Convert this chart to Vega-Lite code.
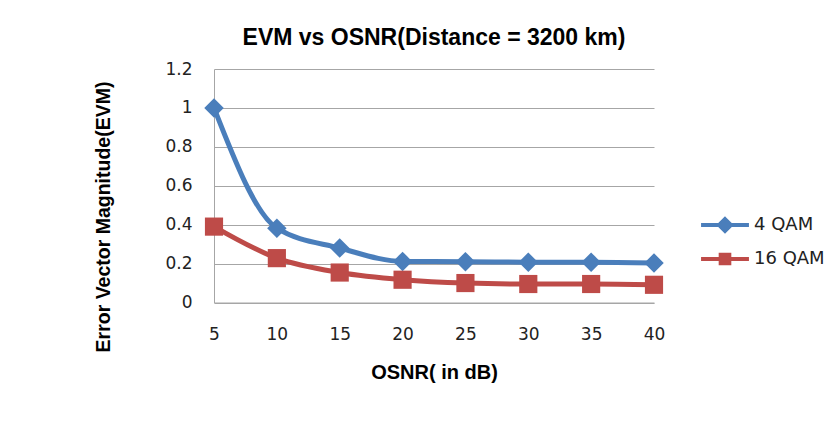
{
  "$schema": "https://vega.github.io/schema/vega-lite/v6.json",
  "width": 440,
  "height": 233.5,
  "autosize": {"type": "none"},
  "padding": {"left": 214, "top": 69, "right": 186, "bottom": 123.5},
  "background": "white",
  "title": {
    "text": "EVM vs OSNR(Distance = 3200 km)",
    "font": "Liberation Sans",
    "fontSize": 23,
    "fontWeight": "bold",
    "color": "#000000",
    "anchor": "middle",
    "baseline": "alphabetic",
    "offset": 22,
    "dy": 29.5
  },
  "data": {
    "values": [
      {"osnr": 5, "series": "4 QAM", "evm": 1.0},
      {"osnr": 10, "series": "4 QAM", "evm": 0.382},
      {"osnr": 15, "series": "4 QAM", "evm": 0.28},
      {"osnr": 20, "series": "4 QAM", "evm": 0.211},
      {"osnr": 25, "series": "4 QAM", "evm": 0.21},
      {"osnr": 30, "series": "4 QAM", "evm": 0.207},
      {"osnr": 35, "series": "4 QAM", "evm": 0.207},
      {"osnr": 40, "series": "4 QAM", "evm": 0.203},
      {"osnr": 5, "series": "16 QAM", "evm": 0.39},
      {"osnr": 10, "series": "16 QAM", "evm": 0.228},
      {"osnr": 15, "series": "16 QAM", "evm": 0.154},
      {"osnr": 20, "series": "16 QAM", "evm": 0.117},
      {"osnr": 25, "series": "16 QAM", "evm": 0.1},
      {"osnr": 30, "series": "16 QAM", "evm": 0.095},
      {"osnr": 35, "series": "16 QAM", "evm": 0.095},
      {"osnr": 40, "series": "16 QAM", "evm": 0.091}
    ]
  },
  "encoding": {
    "x": {
      "field": "osnr",
      "type": "quantitative",
      "scale": {"domain": [5, 40], "nice": false, "zero": false},
      "axis": {
        "title": "OSNR( in dB)",
        "values": [5, 10, 15, 20, 25, 30, 35, 40],
        "grid": false,
        "ticks": false,
        "tickSize": 0,
        "domainColor": "#A6A6A6",
        "domainWidth": 1,
        "labelFont": "DejaVu Sans",
        "labelFontSize": 17,
        "labelColor": "#222222",
        "labelPadding": 24,
        "labelFlush": false,
        "titleFont": "Liberation Sans",
        "titleFontSize": 20,
        "titleFontWeight": "bold",
        "titleColor": "#000000",
        "titlePadding": 20
      }
    },
    "y": {
      "field": "evm",
      "type": "quantitative",
      "scale": {"domain": [0, 1.2], "nice": false},
      "axis": {
        "title": "Error Vector Magnitude(EVM)",
        "values": [0, 0.2, 0.4, 0.6, 0.8, 1, 1.2],
        "format": "~g",
        "grid": true,
        "gridColor": "#A6A6A6",
        "gridWidth": 1,
        "ticks": false,
        "tickSize": 0,
        "domainColor": "#A6A6A6",
        "domainWidth": 1,
        "labelFont": "DejaVu Sans",
        "labelFontSize": 17,
        "labelColor": "#222222",
        "labelPadding": 22,
        "labelFlush": false,
        "titleFont": "Liberation Sans",
        "titleFontSize": 19.5,
        "titleFontWeight": "bold",
        "titleColor": "#000000",
        "titleAngle": 270,
        "titleAlign": "center",
        "titleBaseline": "middle",
        "titleX": -111,
        "titleY": 147.5
      }
    },
    "color": {
      "field": "series",
      "type": "nominal",
      "scale": {"domain": ["4 QAM", "16 QAM"], "range": ["#4A7EBB", "#BE4B48"]},
      "legend": {
        "title": null,
        "orient": "none",
        "legendX": 491,
        "legendY": 136,
        "padding": 0,
        "symbolSize": 1296,
        "symbolStrokeWidth": 4,
        "rowPadding": 0,
        "labelOffset": 9,
        "labelFont": "DejaVu Sans",
        "labelFontSize": 18,
        "labelColor": "#222222",
        "encode": {
          "symbols": {
            "update": {
              "shape": {"signal": "datum.value === '4 QAM' ? 'M-1.33,0L1.33,0M0,-0.33L0.33,0L0,0.33L-0.33,0Z' : 'M-1.33,0L1.33,0M-0.24,-0.24L0.24,-0.24L0.24,0.24L-0.24,0.24Z'"},
              "fill": {"signal": "scale('color', datum.value)"},
              "fillOpacity": {"value": 1}
            }
          }
        }
      }
    }
  },
  "layer": [
    {
      "mark": {"type": "line", "interpolate": "monotone", "strokeWidth": 5}
    },
    {
      "transform": [{"filter": "datum.series === '4 QAM'"}],
      "mark": {"type": "point", "shape": "diamond", "size": 380, "filled": true, "opacity": 1}
    },
    {
      "transform": [{"filter": "datum.series === '16 QAM'"}],
      "mark": {"type": "point", "shape": "square", "size": 330, "filled": true, "opacity": 1}
    }
  ],
  "config": {
    "view": {"stroke": null},
    "font": "Liberation Sans"
  }
}
